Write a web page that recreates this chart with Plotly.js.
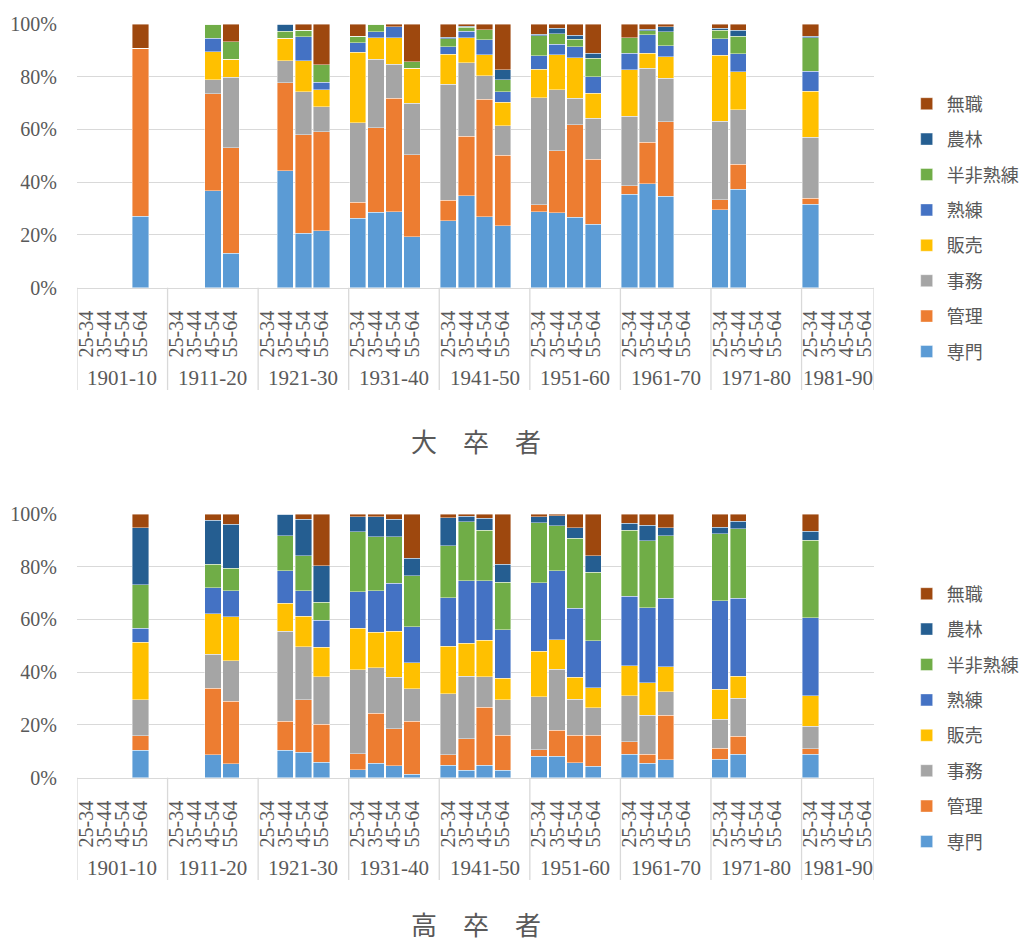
<!DOCTYPE html>
<html><head><meta charset="utf-8">
<script src="https://cdn.plot.ly/plotly-3.0.1.min.js"></script>
<style>html,body{margin:0;padding:0;background:#fff;}#chart{width:1024px;height:944px;}</style>
</head><body><div id="chart"></div>
<script>
// ---- data ----
const cohorts = ['1901-10','1911-20','1921-30','1931-40','1941-50','1951-60','1961-70','1971-80','1981-90'];
const ages = ['25-34','35-44','45-54','55-64'];
const occupations = ['専門','管理','事務','販売','熟練','半非熟練','農林','無職'];
const titles = ['大　卒　者','高　卒　者'];
const N = null;
// 大卒者 (values in %, 9 cohorts x 4 age groups)
const univ_senmon   = [N,N,N,27.1, N,N,36.7,13.0, N,44.4,20.7,21.6, 26.3,28.6,28.8,19.3, 25.4,34.9,26.9,23.4, 28.8,28.4,26.7,24.0, 35.4,39.4,34.6,N, 29.5,37.3,N,N, 31.6,N,N,N];
const univ_kanri    = [N,N,N,63.8, N,N,36.9,40.1, N,33.3,37.3,37.6, 6.1,32.1,43.1,31.1, 7.7,22.6,44.5,26.8, 2.7,23.6,35.1,24.8, 3.3,15.7,28.4,N, 3.9,9.5,N,N, 2.3,N,N,N];
const univ_jimu     = [N,N,N,0, N,N,5.3,26.8, N,8.4,16.3,9.4, 30.2,26.0,12.9,19.6, 44.1,27.8,8.9,11.2, 40.6,23.0,10.1,15.4, 26.3,28.1,16.4,N, 29.7,20.7,N,N, 23.2,N,N,N];
const univ_hanbai   = [N,N,N,0, N,N,10.5,6.8, N,8.5,11.8,6.4, 26.7,8.1,9.9,13.2, 11.4,9.4,8.1,8.9, 10.8,13.4,15.3,9.6, 17.7,5.8,8.2,N, 25.1,14.3,N,N, 17.4,N,N,N];
const univ_jukuren  = [N,N,N,0, N,N,5.2,0, N,0,9.1,3.0, 3.5,2.2,4.3,0, 2.8,2.6,5.7,4.0, 5.0,4.0,4.2,6.2, 6.2,7.0,4.2,N, 6.2,6.9,N,N, 7.5,N,N,N];
const univ_hanhi    = [N,N,N,0, N,N,5.4,6.6, N,2.7,2.5,6.5, 2.6,3.0,0,2.5, 3.0,1.4,3.8,4.6, 7.7,3.9,2.9,7.0, 5.8,1.5,5.3,N, 3.3,6.7,N,N, 12.8,N,N,N];
const univ_nourin   = [N,N,N,0, N,N,0,0, N,2.7,0,0, 0,0,0,0, 0.5,0.4,0,3.7, 0.5,2.1,1.4,2.0, 0,0.5,1.9,N, 0.7,2.2,N,N, 0.6,N,N,N];
const univ_mushoku  = [N,N,N,9.1, N,N,0,6.7, N,0,2.3,15.5, 4.6,0,1.0,14.3, 5.1,0.9,2.1,17.4, 3.9,1.6,4.3,11.0, 5.3,2.0,1.0,N, 1.6,2.4,N,N, 4.6,N,N,N];
// 高卒者
const high_senmon   = [N,N,N,10.5, N,N,8.7,5.3, N,10.4,9.6,5.8, 3.0,5.4,4.6,1.3, 4.7,2.9,4.8,2.8, 8.1,8.2,5.7,4.3, 8.8,5.4,6.8,N, 7.0,8.8,N,N, 8.8,N,N,N];
const high_kanri    = [N,N,N,5.4, N,N,25.3,23.7, N,11.0,20.0,14.4, 6.1,19.0,14.0,20.1, 4.0,11.9,22.0,13.3, 2.5,9.8,10.4,11.8, 4.9,3.4,16.8,N, 4.1,6.9,N,N, 2.2,N,N,N];
const high_jimu     = [N,N,N,13.7, N,N,12.8,15.4, N,34.1,20.0,18.1, 31.9,17.3,19.5,12.4, 23.2,23.6,11.5,13.4, 20.1,23.1,13.6,10.4, 17.4,14.8,9.0,N, 11.0,14.4,N,N, 8.5,N,N,N];
const high_hanbai   = [N,N,N,21.7, N,N,15.3,16.7, N,10.6,11.7,11.1, 15.6,13.5,17.5,9.7, 18.0,12.5,13.8,8.2, 17.2,11.2,8.4,7.6, 11.3,12.4,9.4,N, 11.5,8.3,N,N, 11.6,N,N,N];
const high_jukuren  = [N,N,N,5.3, N,N,10.0,9.8, N,12.4,9.6,10.4, 13.9,15.7,18.1,13.8, 18.4,23.8,22.5,18.4, 26.1,26.2,26.2,17.9, 26.5,28.5,26.1,N, 33.5,29.7,N,N, 29.6,N,N,N];
const high_hanhi    = [N,N,N,16.5, N,N,8.9,8.5, N,13.2,13.3,6.8, 22.8,20.4,17.6,19.2, 19.7,22.4,19.3,18.1, 22.7,17.1,26.6,26.0, 25.0,25.3,23.7,N, 25.4,26.3,N,N, 29.3,N,N,N];
const high_nourin   = [N,N,N,21.7, N,N,16.6,16.7, N,8.3,13.8,13.7, 5.7,7.6,6.8,6.7, 10.6,2.0,4.5,6.7, 2.3,3.8,3.9,6.2, 2.6,5.9,3.0,N, 2.4,2.8,N,N, 3.4,N,N,N];
const high_mushoku  = [N,N,N,5.2, N,N,2.4,3.9, N,0,2.0,19.7, 1.0,1.1,1.9,16.8, 1.4,0.9,1.6,19.1, 1.0,0.6,5.2,15.8, 3.5,4.3,5.2,N, 5.1,2.8,N,N, 6.6,N,N,N];

const univSeries = [univ_senmon,univ_kanri,univ_jimu,univ_hanbai,univ_jukuren,univ_hanhi,univ_nourin,univ_mushoku];
const highSeries = [high_senmon,high_kanri,high_jimu,high_hanbai,high_jukuren,high_hanhi,high_nourin,high_mushoku];

// ---- style ----
const colors = ['#5B9BD5','#ED7D31','#A5A5A5','#FFC000','#4472C4','#70AD47','#255E91','#9E480E'];
const txt = '#595959', grid = '#d9d9d9';
const serif = 'Liberation Serif, Times New Roman, serif';
const cjk = 'Noto Sans CJK JP, sans-serif';

// categories with a blank spacer slot after each cohort (except the last)
const cats = [], realCats = [], slotOf = [], bounds = [];
cohorts.forEach((c, gi) => {
  bounds.push(cats.length - 0.5);
  ages.forEach((a, ai) => { slotOf.push(cats.length); realCats.push(c + '|' + a); cats.push(c + '|' + a); });
  if (gi < cohorts.length - 1) cats.push(c + '|');
});
bounds.push(cats.length - 0.5);
const tickText = cohorts.flatMap(() => ages);

function expand(vals) {
  const out = new Array(cats.length).fill(null);
  vals.forEach((v, i) => { out[slotOf[i]] = v; });
  return out;
}

const traces = [];
[univSeries, highSeries].forEach((series, si) => {
  series.forEach((vals, k) => {
    traces.push({
      type: 'bar', name: occupations[k], x: cats, y: expand(vals),
      xaxis: si ? 'x2' : 'x', yaxis: si ? 'y2' : 'y',
      legend: si ? 'legend2' : 'legend', legendgroup: (si ? 'b' : 'a') + k,
      legendrank: 1000 - k,
      marker: {color: colors[k], line: {color: 'rgba(255,255,255,0.7)', width: 0.6}},
      hovertemplate: occupations[k] + ': %{y:.1f}%<extra></extra>'
    });
  });
});

function xaxis(anchor) {
  return {
    type: 'category', categoryorder: 'array', categoryarray: cats, range: [-0.5, cats.length - 0.5],
    tickmode: 'array', tickvals: realCats, ticktext: tickText, tickangle: -90,
    tickfont: {family: serif, size: 20, color: txt}, ticks: '', ticklabelstandoff: 14,
    showgrid: false, showline: true, linecolor: grid, linewidth: 1.3, zeroline: false,
    anchor: anchor, domain: [0, 1], fixedrange: true
  };
}
function yaxis(anchor, dom) {
  return {
    range: [0, 100], dtick: 20, ticksuffix: '%', tickfont: {family: serif, size: 20, color: txt},
    gridcolor: grid, gridwidth: 1.3, showline: false, zeroline: false, ticks: '', ticklabelstandoff: 19,
    anchor: anchor, domain: dom, fixedrange: true
  };
}

const shapes = [], annotations = [];
['y', 'y2'].forEach((ya, si) => {
  const xa = si ? 'x2' : 'x';
  bounds.forEach(b => shapes.push({type: 'line', xref: xa, yref: ya + ' domain', x0: b, x1: b, y0: 0, y1: -0.388,
    line: {color: grid, width: 1.3}}));
  cohorts.forEach((c, gi) => annotations.push({xref: xa, yref: ya + ' domain', x: (bounds[gi] + bounds[gi + 1]) / 2,
    y: -0.342, text: c, showarrow: false, yanchor: 'middle', font: {family: serif, size: 21, color: txt}}));
});
annotations.push({xref: 'paper', yref: 'paper', x: 0.5, y: 1 - 441 / 944, text: titles[0], showarrow: false,
  yanchor: 'middle', font: {family: cjk, size: 26, color: txt}});
annotations.push({xref: 'paper', yref: 'paper', x: 0.5, y: 0, text: titles[1], showarrow: false,
  yanchor: 'bottom', font: {family: cjk, size: 26, color: txt}});

const legendBase = {xanchor: 'left', yanchor: 'middle', x: 1.041, traceorder: 'grouped', tracegroupgap: 9,
  font: {family: cjk, size: 18, color: txt}, bgcolor: 'rgba(0,0,0,0)', itemclick: false, itemdoubleclick: false};

const layout = {
  width: 1024, height: 944, margin: {l: 77, r: 130, t: 0, b: 0},
  paper_bgcolor: '#fff', plot_bgcolor: '#fff', barmode: 'stack', bargap: 0.1, showlegend: true,
  xaxis: xaxis('y'), yaxis: yaxis('x', [1 - 287.7 / 944, 1 - 24 / 944]),
  xaxis2: xaxis('y2'), yaxis2: yaxis('x2', [1 - 777.7 / 944, 1 - 514 / 944]),
  legend: Object.assign({}, legendBase, {y: 1 - 228 / 944}),
  legend2: Object.assign({}, legendBase, {y: 1 - 718 / 944}),
  shapes: shapes, annotations: annotations
};
Plotly.newPlot('chart', traces, layout, {displayModeBar: false, staticPlot: false});
</script></body></html>
